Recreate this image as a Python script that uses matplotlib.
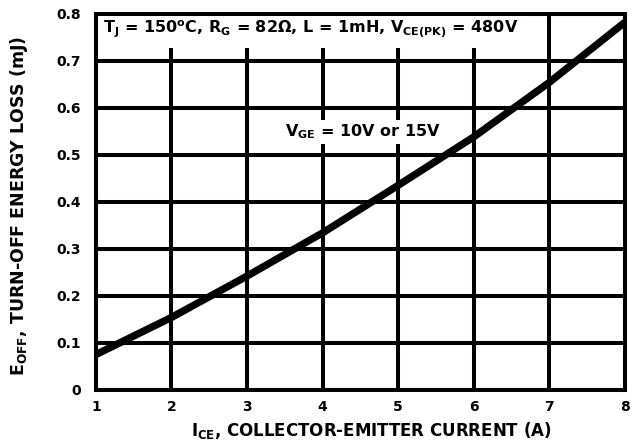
import matplotlib
matplotlib.use("Agg")
import matplotlib.pyplot as plt
from matplotlib.patches import Rectangle

plt.rcParams['font.family'] = ['DejaVu Sans']
plt.rcParams['font.weight'] = 'bold'
plt.rcParams['mathtext.fontset'] = 'custom'
plt.rcParams['mathtext.bf'] = 'DejaVu Sans:bold'
plt.rcParams['mathtext.rm'] = 'DejaVu Sans:bold'
plt.rcParams['mathtext.it'] = 'DejaVu Sans:bold'
plt.rcParams['mathtext.default'] = 'bf'

# data
ice = [1, 2, 3, 4, 5, 6, 7, 8]
eoff = [0.075, 0.154, 0.242, 0.334, 0.435, 0.538, 0.654, 0.782]
xticks = [1, 2, 3, 4, 5, 6, 7, 8]
yticks = [0, 0.1, 0.2, 0.3, 0.4, 0.5, 0.6, 0.7, 0.8]
ytick_labels = ['0', '0.1', '0.2', '0.3', '0.4', '0.5', '0.6', '0.7', '0.8']

fig = plt.figure(figsize=(6.35, 4.45), dpi=100)
ax = fig.add_axes([0.151, 0.124, 0.833, 0.845])

ax.set_xlim(1, 8)
ax.set_ylim(0, 0.8)
ax.set_xticks(xticks)
ax.set_yticks(yticks)
ax.set_xticklabels([str(t) for t in xticks])
ax.set_yticklabels(ytick_labels)
ax.tick_params(axis='y', length=0, labelsize=10, pad=11)
ax.tick_params(axis='x', length=0, labelsize=10, pad=7)
for lab in ax.get_xticklabels() + ax.get_yticklabels():
    lab.set_fontweight('bold')

ax.grid(True, color='black', linewidth=2.9)
ax.set_axisbelow(True)
for s in ax.spines.values():
    s.set_linewidth(2.9)

# white area behind the conditions text
ax.add_patch(Rectangle((1, 0.727), 5.72, 0.073, facecolor='white',
                       edgecolor='none', zorder=1.5))
ax.text(1.09, 0.766, r'$T_J$ = 150$^{o}$C, $R_G$ = 82Ω, L = 1mH, $V_{CE(PK)}$ = 480V',
        fontsize=11.5, fontweight='bold', va='center', ha='left', zorder=3)

ax.plot(ice, eoff, color='black', linewidth=5.3, solid_capstyle='butt', zorder=4)

ax.text(4.53, 0.549, r'$V_{GE}$ = 10V or 15V', fontsize=11.5, fontweight='bold',
        ha='center', va='center', zorder=3,
        bbox=dict(facecolor='white', edgecolor='none', pad=2))

ax.set_xlabel(r'$I_{CE}$, COLLECTOR-EMITTER CURRENT (A)', fontsize=12,
              fontweight='bold')
ax.xaxis.set_label_coords(0.52, -0.08)
ax.set_ylabel(r'$E_{OFF}$, TURN-OFF ENERGY LOSS (mJ)', fontsize=12.5,
              fontweight='bold')
ax.yaxis.set_label_coords(-0.125, 0.49)

fig.savefig('out.png', dpi=100)
